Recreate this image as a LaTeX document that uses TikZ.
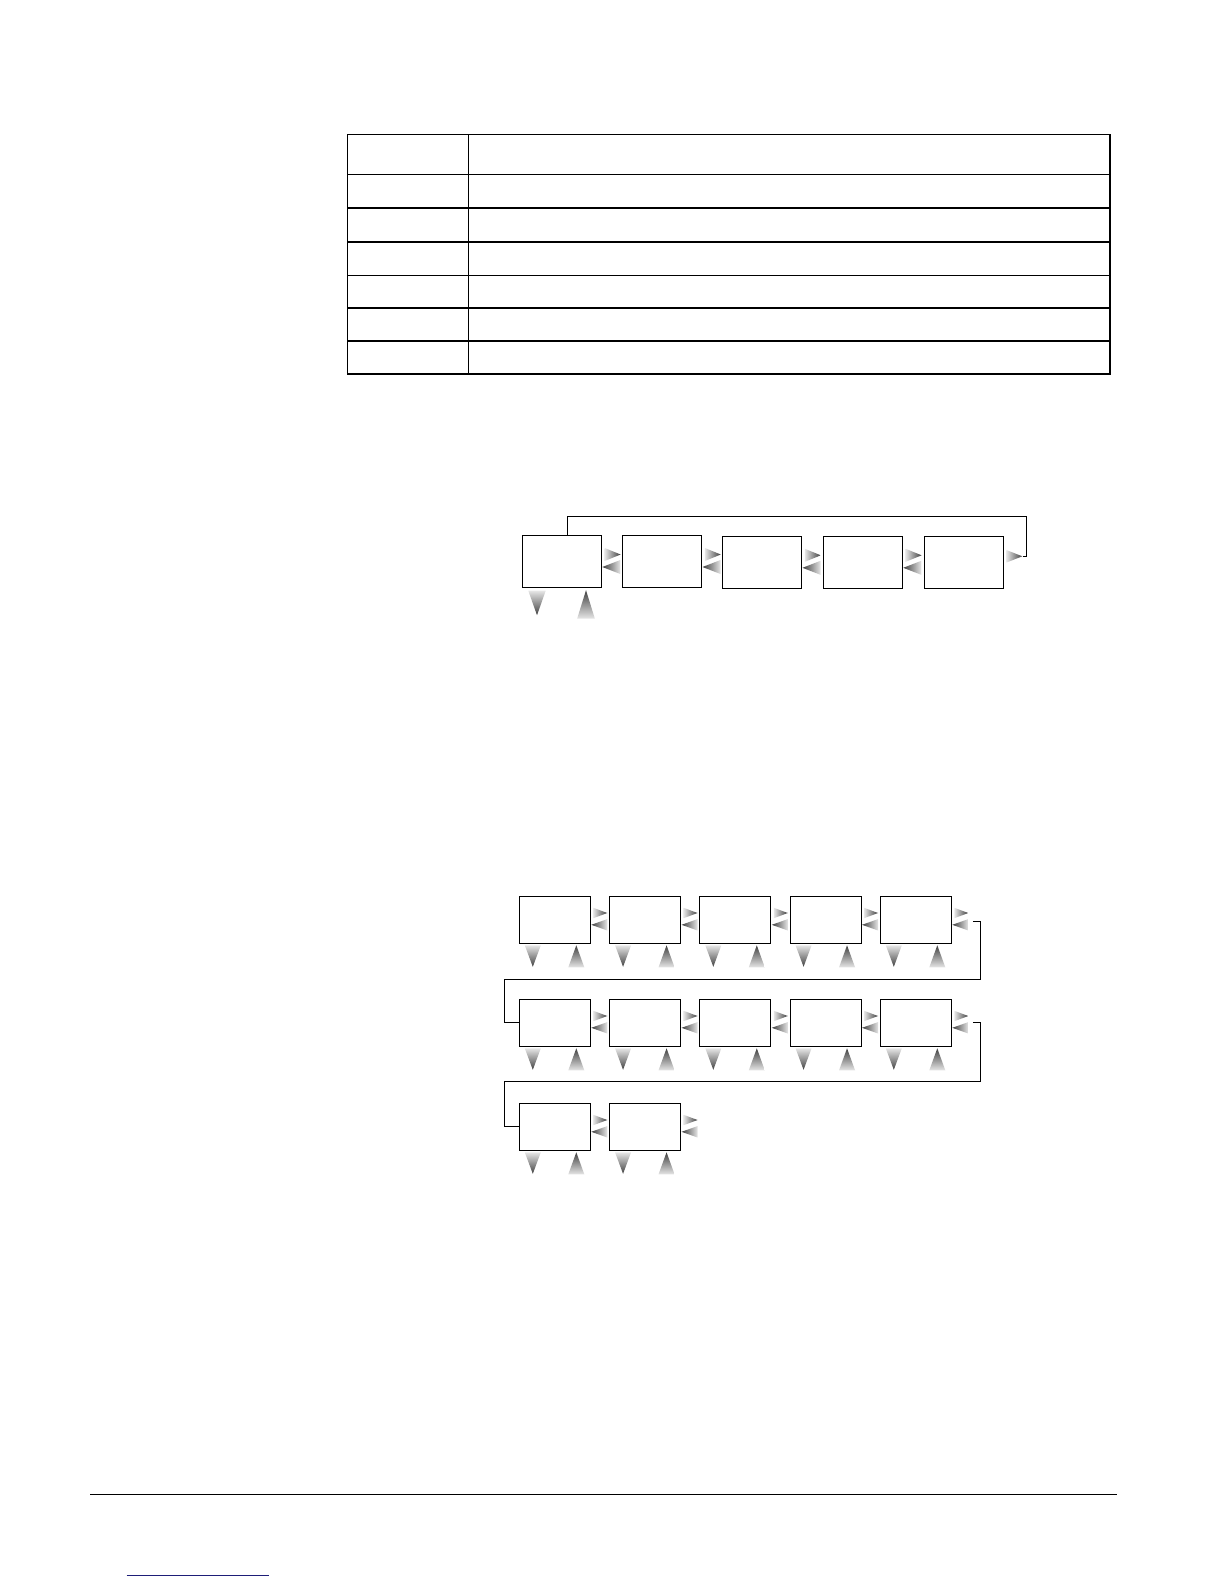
\documentclass[tikz,border=0pt]{standalone}
\usetikzlibrary{calc}
\definecolor{tritip}{gray}{0.25}
\definecolor{tribase}{gray}{0.9}
\definecolor{linkblue}{RGB}{30,30,120}
% gradient triangles: #1 tip, #2 half base, #3 length
\newcommand\tdown[3]{\shade[top color=tribase,bottom color=tritip] #1 -- ++(-#2,-#3) -- ++(2*#2,0) -- cycle;}
\newcommand\tup[3]{\shade[top color=tritip,bottom color=tribase] #1 -- ++(-#2,#3) -- ++(2*#2,0) -- cycle;}
\newcommand\trgt[3]{\shade[left color=tribase,right color=tritip] #1 -- ++(-#3,-#2) -- ++(0,2*#2) -- cycle;}
\newcommand\tlft[3]{\shade[left color=tritip,right color=tribase] #1 -- ++(#3,-#2) -- ++(0,2*#2) -- cycle;}
\begin{document}
\begin{tikzpicture}[x=0.5pt,y=-0.5pt,
  bigbox/.style={draw, line width=0.55pt, inner sep=0pt, outer sep=0pt,
    minimum width=39.5pt, minimum height=26pt, anchor=north west},
  smallbox/.style={draw, line width=0.55pt, inner sep=0pt, outer sep=0pt,
    minimum width=35.5pt, minimum height=23.5pt, anchor=north west},
  gridline/.style={line width=0.65pt},
  wire/.style={line width=0.5pt},
  rule/.style={line width=0.65pt},
  linkline/.style={linkblue, line width=0.5pt}]
\fill[white] (0,0) rectangle (1224,1584);
\useasboundingbox (0,0) rectangle (1224,1584);

% ---------- table ----------
\draw[gridline] (347.3,134.3) rectangle (1110,374);
\draw[gridline] (468.3,134.3) -- (468.3,374);
\foreach \yy in {174.3,208,242,275.3,308,341}
  \draw[gridline] (347.3,\yy) -- (1110,\yy);

% ---------- diagram 1 ----------
\foreach \i/\L/\T in {1/522.3/535.5, 2/622.5/535.5, 3/722.5/536.3, 4/823.3/536.3, 5/924.3/536.3}
  \node[bigbox] (a\i) at (\L,\T) {};
\foreach \i in {1,...,4}{
  \trgt{($(a\i.east)+(19.3,-7)$)}{6.5}{16}
  \tlft{($(a\i.east)+(1,5.5)$)}{7}{18}
}
\trgt{($(a5.east)+(19,-6)$)}{6.3}{16}
\coordinate (a5out) at ($(a5.east)+(19.5,-5.6)$);
\coordinate (loopTR) at (1026.3,516);
\draw[wire] ($(a1.north west)+(45,0)$) |- (loopTR) |- (a5out);
\tdown{($(a1.south west)+(14.7,27.7)$)}{8.7}{24.5}
\tup{($(a1.south west)+(63.7,2.7)$)}{8.8}{28.3}

% ---------- diagram 2 ----------
\foreach \r/\T/\n in {1/896.3/5, 2/999.3/5, 3/1103.3/2}{
  \foreach \c in {1,...,\n}{
    \node[smallbox] (b\r\c) at ({519.3+90.25*(\c-1)},\T) {};
    \tdown{($(b\r\c.south west)+(13.5,23.5)$)}{8}{21.5}
    \tup{($(b\r\c.south west)+(57,2)$)}{8}{22}
    \trgt{($(b\r\c.east)+(17,-6.8)$)}{5.2}{14}
    \tlft{($(b\r\c.east)+(1,5)$)}{5.7}{16}
  }
}
\draw[wire] ($(b15.east)+(21.5,1.8)$) -| (980.7,979) -- (504.3,979) |- (b21.west);
\draw[wire] ($(b25.east)+(21.5,0)$) -| (980.7,1081) -- (504.3,1081) |- (b31.west);

% ---------- footer ----------
\draw[rule] (90,1494.3) -- (1117,1494.3);
\draw[linkline] (126.7,1575) -- (269,1575);
\end{tikzpicture}
\end{document}
